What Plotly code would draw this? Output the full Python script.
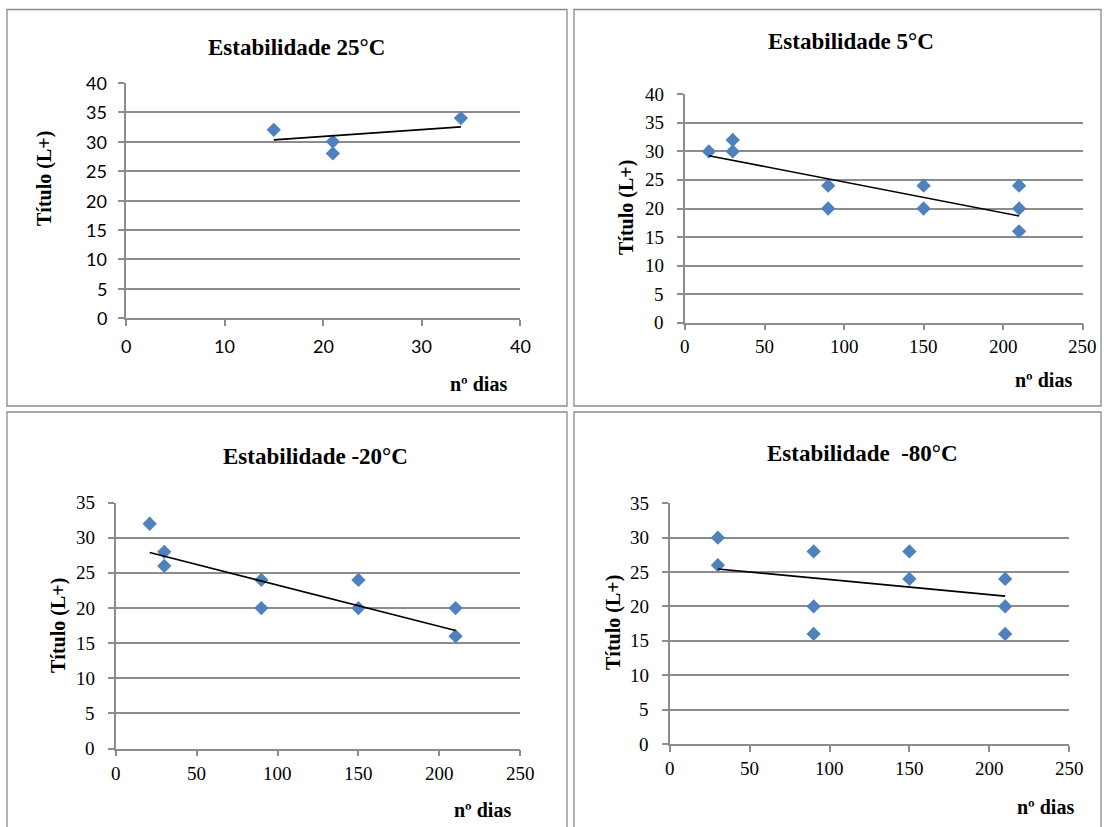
import plotly.graph_objects as go

# Stability series: storage days vs titre (L+)
days_25 = [15, 21, 21, 34]
titre_25 = [32, 30, 28, 34]
trend_days_25 = [15, 34]
trend_titre_25 = [30.3, 32.5]

days_5 = [15, 30, 30, 90, 90, 150, 150, 210, 210, 210]
titre_5 = [30, 32, 30, 24, 20, 24, 20, 24, 20, 16]
trend_days_5 = [15, 210]
trend_titre_5 = [29.25, 18.7]

days_m20 = [21, 30, 30, 90, 90, 150, 150, 210, 210]
titre_m20 = [32, 28, 26, 24, 20, 24, 20, 20, 16]
trend_days_m20 = [21, 210]
trend_titre_m20 = [27.9, 16.8]

days_m80 = [30, 30, 90, 90, 90, 150, 150, 210, 210, 210]
titre_m80 = [30, 26, 28, 20, 16, 28, 24, 24, 20, 16]
trend_days_m80 = [30, 210]
trend_titre_m80 = [25.45, 21.5]

# Tick labels
x_ticks_short = [0, 10, 20, 30, 40]
x_ticks_long = [0, 50, 100, 150, 200, 250]
y_ticks_40 = [0, 5, 10, 15, 20, 25, 30, 35, 40]
y_ticks_35 = [0, 5, 10, 15, 20, 25, 30, 35]

titles = ["Estabilidade 25°C", "Estabilidade 5°C", "Estabilidade -20°C", "Estabilidade  -80°C"]
x_ticks = [x_ticks_short, x_ticks_long, x_ticks_long, x_ticks_long]
y_ticks = [y_ticks_40, y_ticks_40, y_ticks_35, y_ticks_35]

W, H = 1104, 827
SERIF = "Liberation Serif"
BLUE = "#4F81BD"
GRID = "#8C8C8C"


def px(x):
    return x / W


def py(y):
    return 1 - y / H


# Plot-area corners in pixels: (left, right, top, bottom)
areas = [
    (126, 520, 82.7, 318.3),
    (685, 1082.7, 94.3, 322.7),
    (115.7, 520.3, 502.7, 748.5),
    (670, 1069, 503.3, 744),
]
# Panel frames: (left, right, top, bottom)
frames = [(7, 567, 9.5, 406), (574, 1101, 9.5, 406), (7, 567, 412, 840), (574, 1101, 412, 840)]
title_pos = [(296, 47), (851, 41), (315, 456), (862, 453)]
ytitle_pos = [(44, 178), (626, 208), (58, 626), (613, 623)]
xtitle_pos = [(478, 384), (1043, 380), (482, 810), (1045, 807)]
serif_ticks = dict(family=SERIF, size=19, color="black")
tick_fonts = [dict(family="Lato", size=18, color="black"), serif_ticks, serif_ticks, serif_ticks]
xlabel_drop = [28, 24, 24.5, 24]
ylabel_gap = [17, 19, 19, 19]

series = [
    (days_25, titre_25, trend_days_25, trend_titre_25),
    (days_5, titre_5, trend_days_5, trend_titre_5),
    (days_m20, titre_m20, trend_days_m20, trend_titre_m20),
    (days_m80, titre_m80, trend_days_m80, trend_titre_m80),
]

fig = go.Figure()
annotations = []
shapes = []

for i, (xs, ys, tx, ty) in enumerate(series):
    n = "" if i == 0 else str(i + 1)
    xa, ya = "x" + n, "y" + n
    fig.add_trace(go.Scatter(
        x=xs, y=ys, mode="markers", xaxis=xa, yaxis=ya,
        marker=dict(symbol="diamond", size=11, color=BLUE, line=dict(width=0)),
        showlegend=False, hoverinfo="x+y",
    ))
    fig.add_trace(go.Scatter(
        x=tx, y=ty, mode="lines", xaxis=xa, yaxis=ya,
        line=dict(color="black", width=1.6),
        showlegend=False, hoverinfo="skip",
    ))

    l, r, t, b = areas[i]
    xt, yt = x_ticks[i], y_ticks[i]
    fig.layout["xaxis" + n] = go.layout.XAxis(
        domain=[px(l), px(r)], anchor=ya, range=[xt[0], xt[-1]],
        tickmode="array", tickvals=xt, showticklabels=False, showgrid=False,
        showline=True, linecolor=GRID, linewidth=1.5,
        ticks="outside", ticklen=6, tickcolor=GRID, tickwidth=1.5,
        zeroline=False, fixedrange=True,
    )
    fig.layout["yaxis" + n] = go.layout.YAxis(
        domain=[py(b), py(t)], anchor=xa, range=[yt[0], yt[-1]],
        tickmode="array", tickvals=yt, showticklabels=False,
        showgrid=True, gridcolor=GRID, gridwidth=1.5,
        showline=True, linecolor=GRID, linewidth=1.5,
        ticks="outside", ticklen=6, tickcolor=GRID, tickwidth=1.5,
        zeroline=False, fixedrange=True,
    )

    # Tick labels placed through each axis' own scale
    tf = tick_fonts[i]
    for v in xt:
        annotations.append(dict(
            text=str(v), x=v, y=yt[0], xref=xa, yref=ya,
            xanchor="center", yanchor="middle", yshift=-xlabel_drop[i],
            showarrow=False, font=tf,
        ))
    for v in yt:
        annotations.append(dict(
            text=str(v), x=xt[0], y=v, xref=xa, yref=ya,
            xanchor="right", yanchor="middle", xshift=-ylabel_gap[i],
            showarrow=False, font=tf,
        ))

    fl, fr, ft, fb = frames[i]
    shapes.append(dict(
        type="rect", xref="paper", yref="paper",
        x0=px(fl), x1=px(fr), y0=py(fb), y1=py(ft),
        line=dict(color="#8A8A8A", width=1.3), fillcolor="rgba(0,0,0,0)", layer="below",
    ))

    annotations.append(dict(
        text="<b>" + titles[i] + "</b>", xref="paper", yref="paper",
        x=px(title_pos[i][0]), y=py(title_pos[i][1]), xanchor="center", yanchor="middle",
        showarrow=False, font=dict(family=SERIF, size=23, color="black"),
    ))
    annotations.append(dict(
        text="<b>Título (L+)</b>", xref="paper", yref="paper", textangle=-90,
        x=px(ytitle_pos[i][0]), y=py(ytitle_pos[i][1]), xanchor="center", yanchor="middle",
        showarrow=False, font=dict(family=SERIF, size=20, color="black"),
    ))
    annotations.append(dict(
        text="<b>nº dias</b>", xref="paper", yref="paper",
        x=px(xtitle_pos[i][0]), y=py(xtitle_pos[i][1]), xanchor="center", yanchor="middle",
        showarrow=False, font=dict(family=SERIF, size=20, color="black"),
    ))

fig.update_layout(
    width=W, height=H,
    margin=dict(l=0, r=0, t=0, b=0),
    paper_bgcolor="white", plot_bgcolor="white",
    annotations=annotations, shapes=shapes,
)

fig.write_html("out.html", include_plotlyjs=True, full_html=True,
               config={"displayModeBar": False})
